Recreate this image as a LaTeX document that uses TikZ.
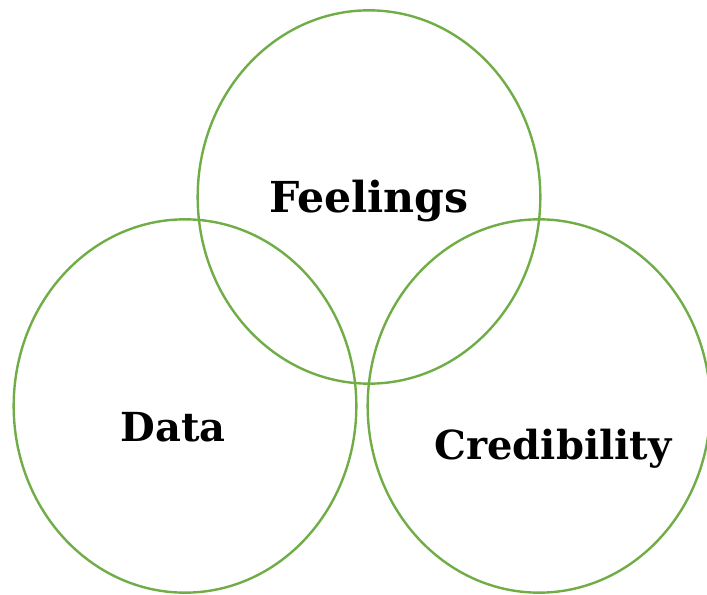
\documentclass[tikz,border=0pt]{standalone}
\usepackage{fontspec}
\setmainfont{DejaVu Serif}
\usetikzlibrary{shapes.geometric}
\definecolor{ringgreen}{HTML}{70AD47}
\tikzset{
  ring/.style={draw=ringgreen, line width=1.8pt, ellipse, inner sep=0pt,
    minimum width=257pt, minimum height=280pt},
  word/.style={font=\fontsize{30}{34}\selectfont\bfseries, inner sep=0pt}
}
\begin{document}
\begin{tikzpicture}[x=0.75pt, y=-0.75pt]
\useasboundingbox (0, 0) rectangle (707, 595);

\node [ring] (feelings) at (369, 197) {};
\node [ring] (data) at (185, 406) {};
\node [ring] (credibility) at (539, 406) {};

\node [word, font=\fontsize{32}{36}\selectfont\bfseries] (feelingstext) at (369, 201) {Feelings};
\node [word] (datatext) at (173, 427) {Data};
\node [word] (credibilitytext) at (553, 449) {Credibility};
\end{tikzpicture}
\end{document}
